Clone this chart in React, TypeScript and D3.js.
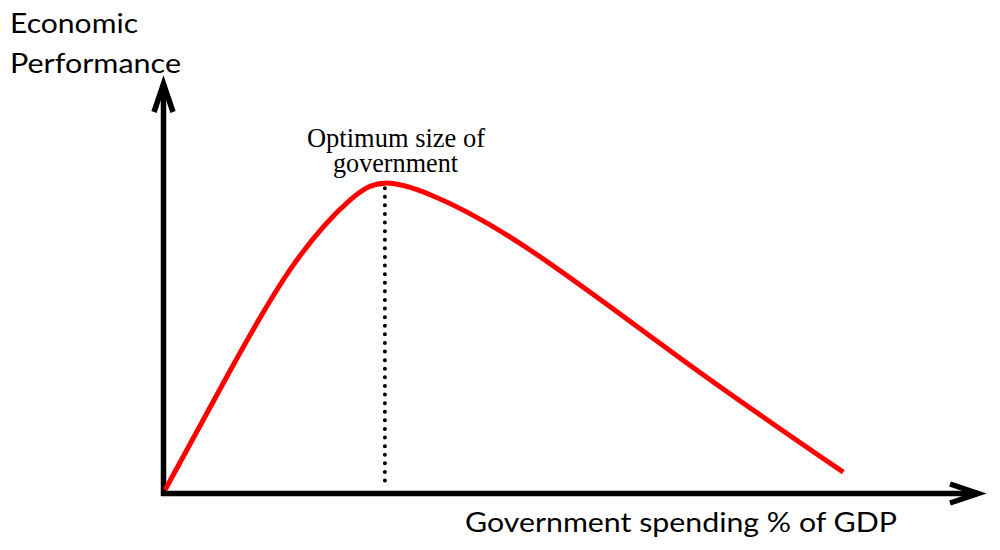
import React from "react";
import * as d3 from "d3";

// Curve: government spending (% of GDP, relative units) vs economic performance (relative units)
const spending = [0.2, 7.5, 15.4, 22.7, 27.0, 32.6, 44.7, 64.2, 82.9];
const performance = [0.9, 27.7, 54.5, 71.5, 75.7, 72.8, 59.4, 31.3, 5.2];
const optimumIndex = 4;

const yTitleLines = ["Economic", "Performance"];
const xTitle = "Government spending % of GDP";
const annotationLines = ["Optimum size of", "government"];

const W = 1000;
const H = 550;

export default function App() {
  const x = d3.scaleLinear().domain([0, 100]).range([163.5, 983.5]);
  const y = d3.scaleLinear().domain([0, 100]).range([493.5, 83.5]);

  const pts: [number, number][] = spending.map((s, i) => [s, performance[i]]);
  const line = d3
    .line<[number, number]>()
    .x((d) => x(d[0]))
    .y((d) => y(d[1]))
    .curve(d3.curveNatural);

  const ox = x(0);
  const oy = y(0);
  const peakX = x(spending[optimumIndex]);
  const peakY = y(performance[optimumIndex]);

  const sw = 5.5;
  const yTip = 75;
  const xTip = 987;
  const miter = 8.9;

  const sans = "Lato, 'Open Sans', sans-serif";
  const serif = "'Liberation Serif', 'Times New Roman', serif";

  return (
    <svg
      width={W}
      height={H}
      viewBox={`0 0 ${W} ${H}`}
      style={{ position: "absolute", left: 0, top: 0, background: "#fff" }}
    >
      <rect x={0} y={0} width={W} height={H} fill="#fff" />
      {/* Y axis */}
      <line x1={ox} y1={oy + 2.5} x2={ox} y2={yTip + miter} stroke="#000" strokeWidth={sw} />
      <polyline
        points={`${ox - 9.5},${yTip + 37} ${ox},${yTip + miter} ${ox + 9.5},${yTip + 37}`}
        fill="none"
        stroke="#000"
        strokeWidth={sw}
        strokeLinejoin="miter"
        strokeMiterlimit={6}
      />
      {/* X axis */}
      <line x1={ox - 2.5} y1={oy} x2={xTip - miter} y2={oy} stroke="#000" strokeWidth={sw} />
      <polyline
        points={`${xTip - 37},${oy - 9.5} ${xTip - miter},${oy} ${xTip - 37},${oy + 9.5}`}
        fill="none"
        stroke="#000"
        strokeWidth={sw}
        strokeLinejoin="miter"
        strokeMiterlimit={6}
      />
      {/* Dotted optimum line */}
      <line
        x1={peakX}
        y1={peakY + 5}
        x2={peakX}
        y2={oy - 6}
        stroke="#000"
        strokeWidth={4}
        strokeLinecap="round"
        strokeDasharray="0 8.6"
      />
      {/* Curve */}
      <path d={line(pts) || ""} fill="none" stroke="#ff0000" strokeWidth={5} />
      {/* Labels */}
      <text x={10} y={33} fontFamily={sans} fontSize={27} fill="#000" textLength={128} lengthAdjust="spacingAndGlyphs">
        {yTitleLines[0]}
      </text>
      <text x={10} y={73} fontFamily={sans} fontSize={27} fill="#000" textLength={171} lengthAdjust="spacingAndGlyphs">
        {yTitleLines[1]}
      </text>
      <text x={465} y={532} fontFamily={sans} fontSize={26} fill="#000" textLength={432} lengthAdjust="spacingAndGlyphs">
        {xTitle}
      </text>
      <text x={307} y={147} fontFamily={serif} fontSize={27} fill="#000" textLength={178} lengthAdjust="spacingAndGlyphs">
        {annotationLines[0]}
      </text>
      <text x={333} y={172} fontFamily={serif} fontSize={27} fill="#000" textLength={125} lengthAdjust="spacingAndGlyphs">
        {annotationLines[1]}
      </text>
    </svg>
  );
}
